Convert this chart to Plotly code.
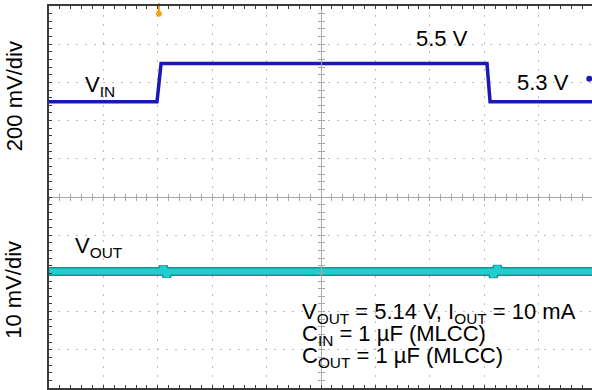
import plotly.graph_objects as go

# ---------------- data (read from the scope capture) ----------------
# time in horizontal divisions
vin_time = [0.0, 1.985, 2.06, 8.05, 8.107, 9.98]
vin_volts = [5.3, 5.3, 5.5, 5.5, 5.3, 5.3]

vout_time = [0.0, 2.07, 2.10, 2.164, 2.20, 8.13, 8.167, 8.24, 8.28, 9.98]
vout_volts = [5.14, 5.14, 5.1413, 5.1387, 5.14, 5.14, 5.1387, 5.1413, 5.14, 5.14]

trigger_time = [2.02]
trigger_level_time = [9.93]
trigger_level = [5.42]

vin_scale = 0.2     # V/div
vout_scale = 0.010  # V/div

FONT = "Arial, Liberation Sans, sans-serif"
FS = 22
BLUE = "#1a1ab0"
CYAN = "#22cdd0"
TEAL = "#1a8f96"
ORANGE = "#f2a21c"

XR = [0, 9.98]

fig = go.Figure()

# VOUT band (dark edge + cyan core)
fig.add_trace(go.Scatter(x=vout_time, y=vout_volts, xaxis="x", yaxis="y3", mode="lines",
                         line=dict(color=TEAL, width=9), hoverinfo="skip", showlegend=False))
fig.add_trace(go.Scatter(x=vout_time, y=vout_volts, xaxis="x", yaxis="y3", mode="lines",
                         line=dict(color=CYAN, width=6), hoverinfo="skip", showlegend=False))
# VIN
fig.add_trace(go.Scatter(x=vin_time, y=vin_volts, xaxis="x3", yaxis="y2", mode="lines",
                         line=dict(color=BLUE, width=3.5), hoverinfo="skip", showlegend=False))
# trigger level marker (right edge)
fig.add_trace(go.Scatter(x=trigger_level_time, y=trigger_level, xaxis="x3", yaxis="y2", mode="markers",
                         marker=dict(symbol="circle", size=6, color=BLUE),
                         cliponaxis=False, showlegend=False, hoverinfo="skip"))
# trigger time marker (top): stem + bulb
fig.add_trace(go.Scatter(x=trigger_time, y=[4.93], xaxis="x2", yaxis="y5", mode="markers",
                         marker=dict(symbol="line-ns", size=8, line=dict(color=ORANGE, width=2)),
                         cliponaxis=False, showlegend=False, hoverinfo="skip"))
fig.add_trace(go.Scatter(x=trigger_time, y=[4.8], xaxis="x2", yaxis="y4", mode="markers",
                         marker=dict(symbol="circle", size=6, color=ORANGE),
                         cliponaxis=False, showlegend=False, hoverinfo="skip"))

grid_col = "#bdbdbd"
border_col = "#3a3a3a"
center_col = "#a8a8a8"

common = dict(automargin=False, showticklabels=False)

fig.update_layout(
    width=592, height=390,
    margin=dict(l=49, r=0, t=6, b=2, autoexpand=False),
    paper_bgcolor="white", plot_bgcolor="white",
    font=dict(family=FONT, size=FS, color="black"),
    xaxis=dict(range=XR, dtick=1, tick0=0, showgrid=True, gridcolor=grid_col,
               griddash="2px,7px", gridwidth=1, zeroline=False,
               showline=True, linecolor=border_col, linewidth=1.5, mirror="allticks",
               ticks="inside", ticklen=3, tickcolor=border_col,
               minor=dict(dtick=0.2, tick0=0, ticks="inside", ticklen=3, tickcolor=border_col, showgrid=False),
               **common),
    yaxis=dict(range=[-5, 5], dtick=1, tick0=0, showgrid=True, gridcolor=grid_col,
               griddash="2px,7px", gridwidth=1, zeroline=False,
               showline=True, linecolor=border_col, linewidth=1.5, mirror=False,
               ticks="inside", ticklen=3, tickcolor=border_col,
               minor=dict(dtick=0.2, tick0=0, ticks="inside", ticklen=3, tickcolor=border_col, showgrid=False),
               **common),
    yaxis2=dict(range=[5.3 - 7.495 * vin_scale, 5.3 + 2.505 * vin_scale],
                overlaying="y", visible=False, automargin=False),
    yaxis3=dict(range=[5.14 - 3.05 * vout_scale, 5.14 + 6.95 * vout_scale],
                overlaying="y", visible=False, automargin=False),
    # center crosshair with small ticks
    xaxis2=dict(range=XR, overlaying="x", anchor="free", position=0.5,
                showline=True, linecolor=center_col, linewidth=1, showgrid=False, zeroline=False,
                ticks="inside", ticklen=3, tickcolor=center_col, dtick=0.2, tick0=0, **common),
    xaxis3=dict(range=XR, overlaying="x", anchor="free", position=0.5,
                showline=False, showgrid=False, zeroline=False,
                ticks="outside", ticklen=3, tickcolor=center_col, dtick=0.2, tick0=0, **common),
    yaxis4=dict(range=[-5, 5], overlaying="y", anchor="free", position=5 / XR[1],
                showline=True, linecolor=center_col, linewidth=1, showgrid=False, zeroline=False,
                ticks="inside", ticklen=3, tickcolor=center_col, dtick=0.2, tick0=0, **common),
    yaxis5=dict(range=[-5, 5], overlaying="y", anchor="free", position=5 / XR[1], side="right",
                showline=False, showgrid=False, zeroline=False,
                ticks="inside", ticklen=3, tickcolor=center_col, dtick=0.2, tick0=0, **common),
)

ann = []
def label(text, x, y, xanchor="center", yref="y", xref="x", **kw):
    ann.append(dict(text=text, x=x, y=y, xref=xref, yref=yref, xanchor=xanchor,
                    yanchor="middle", showarrow=False, font=dict(family=FONT, size=FS, color="black"), **kw))

label("V<sub>IN</sub>", 0.94, 2.90)
label("5.5 V", 7.22, 4.14)
label("5.3 V", 9.08, 3.01)
label("V<sub>OUT</sub>", 0.92, -1.31)
label("V<sub>OUT</sub> = 5.14 V, I<sub>OUT</sub> = 10 mA", 4.61, -3.04, xanchor="left")
label("C<sub>IN</sub> = 1 \u00b5F (MLCC)", 4.61, -3.61, xanchor="left")
label("C<sub>OUT</sub> = 1 \u00b5F (MLCC)", 4.61, -4.2, xanchor="left")
label("200 mV/div", -0.0645, 0.764, xref="paper", yref="paper", textangle=-90)
label("10 mV/div", -0.0645, 0.257, xref="paper", yref="paper", textangle=-90)
fig.update_layout(annotations=ann)

fig.write_html(
    "out.html",
    config={"displayModeBar": False},
    post_script="document.body.style.margin='0';document.body.style.overflow='hidden';",
)
